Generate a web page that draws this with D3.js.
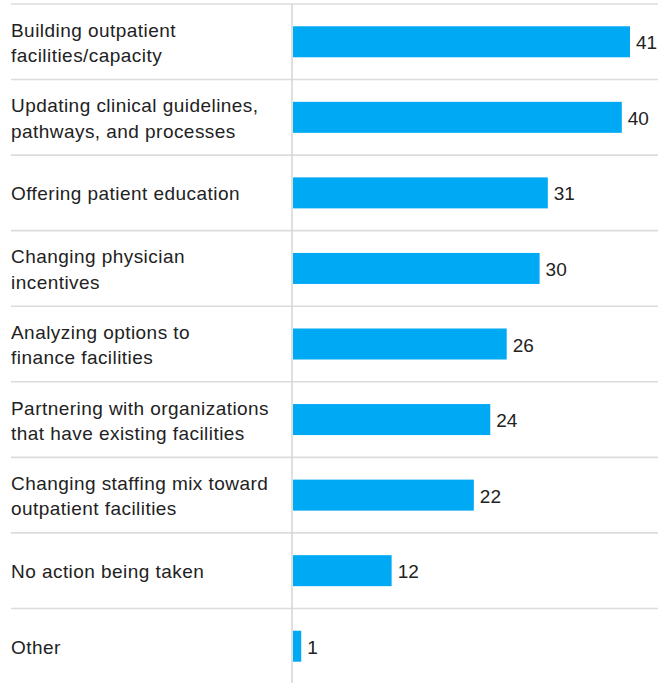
<!DOCTYPE html>
<html>
<head>
<meta charset="utf-8">
<script src="https://cdn.jsdelivr.net/npm/d3@7/dist/d3.min.js"></script>
<style>
  html, body { margin: 0; padding: 0; background: #fff; }
  svg { display: block; }
  text { font-family: "Liberation Sans", Arial, sans-serif; fill: #222; }
</style>
</head>
<body>
<svg id="chart" width="658" height="683"></svg>
<script>
// Share of respondents by action taken (%)
const categories = [
  ["Building outpatient", "facilities/capacity"],
  ["Updating clinical guidelines,", "pathways, and processes"],
  ["Offering patient education"],
  ["Changing physician", "incentives"],
  ["Analyzing options to", "finance facilities"],
  ["Partnering with organizations", "that have existing facilities"],
  ["Changing staffing mix toward", "outpatient facilities"],
  ["No action being taken"],
  ["Other"]
];
const values = [41, 40, 31, 30, 26, 24, 22, 12, 1];

const W = 658, H = 683;
const svg = d3.select("#chart");

const axisX = 292;
const y = d3.scaleBand()
  .domain(d3.range(values.length))
  .range([4, 684])
  .paddingInner(0).paddingOuter(0);

const x = d3.scaleLinear()
  .domain([0, 41])
  .range([293, 630]);

const barH = 31;
const fontSize = 19;
const lineGap = 25.3;
const capH = fontSize * 0.716;

// row separators
svg.append("g").selectAll("line")
  .data(d3.range(values.length))
  .join("line")
  .attr("x1", 11).attr("x2", W)
  .attr("y1", i => y(i)).attr("y2", i => y(i))
  .attr("stroke", "#dcdcdc").attr("stroke-width", 1.6);

// vertical baseline
svg.append("line")
  .attr("x1", axisX).attr("x2", axisX)
  .attr("y1", 4).attr("y2", H)
  .attr("stroke", "#d4d4d4").attr("stroke-width", 1.5);

const rows = svg.append("g").selectAll("g")
  .data(values.map((v, i) => ({ v, i, label: categories[i] })))
  .join("g");

// bars
rows.append("rect")
  .attr("x", x(0))
  .attr("y", d => y(d.i) + y.bandwidth() / 2 - barH / 2)
  .attr("width", d => x(d.v) - x(0))
  .attr("height", barH)
  .attr("fill", "#00a9f4");

// category labels (vertically centred on cap height)
rows.append("text")
  .attr("font-size", fontSize)
  .attr("letter-spacing", "0.45px")
  .each(function(d) {
    const n = d.label.length;
    const c = y(d.i) + y.bandwidth() / 2;
    const first = c - ((n - 1) * lineGap) / 2 + capH / 2 + 0.8;
    d3.select(this).selectAll("tspan")
      .data(d.label)
      .join("tspan")
      .attr("x", 11)
      .attr("y", (t, k) => first + k * lineGap)
      .text(t => t);
  });

// value labels
rows.append("text")
  .attr("font-size", fontSize)
  .attr("x", d => x(d.v) + 6)
  .attr("y", d => y(d.i) + y.bandwidth() / 2 + capH / 2 + 0.8)
  .text(d => d.v);
</script>
</body>
</html>
